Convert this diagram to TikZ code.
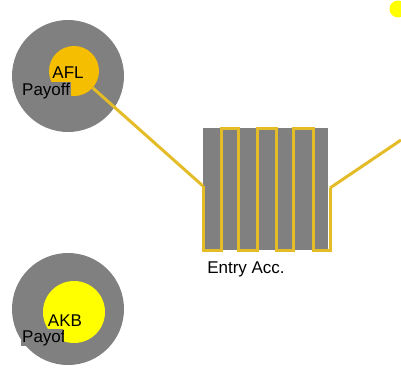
\documentclass[tikz,border=0pt]{standalone}
\usepackage{fontspec}
\setmainfont{Liberation Sans}
\usetikzlibrary{positioning}
\definecolor{ringgray}{RGB}{128,128,128}
\definecolor{aflorange}{RGB}{246,190,0}
\definecolor{akbyellow}{RGB}{255,255,0}
\definecolor{linkgold}{RGB}{228,188,40}

\begin{document}
\begin{tikzpicture}[x=1pt,y=-1pt,
    ring/.style={circle, fill=ringgray, minimum size=112pt, inner sep=0pt},
    core/.style={circle, minimum size=#1, inner sep=0pt},
    txt/.style={font=\fontsize{17}{19}\selectfont, inner sep=0pt},
    link/.style={draw=linkgold, line width=3pt}
]
\useasboundingbox (0,0) rectangle (401,370);

% outer grey rings
\node[ring] (aflring) at (68,76) {};
\node[ring] (akbring) at (68,309) {};

% the account box with its meander
\fill[ringgray] (203,128) rectangle (328,250);
\coordinate (in) at (203,186);
\coordinate (out) at (330,188);
\coordinate (far) at (401,140);
\draw[link, line join=miter] (in) -- (203,250) -- (221,250) -- (221,128) -- (238,128)
    -- (238,250) -- (257,250) -- (257,128) -- (276,128) -- (276,250) -- (293,250)
    -- (293,128) -- (313,128) -- (313,250) -- (330,250) -- (out);

% inner discs
\node[core=50pt, fill=aflorange] (afl) at (74,71) {};
\node[core=62pt, fill=akbyellow] (akb) at (74,312) {};

% connectors
\draw[link] (afl.-42) -- (in);
\draw[link] (out) -- (far);

% texts
\node[txt] (afltext) at (68,73) {AFL};
\node[txt] (akbtext) at (65,321) {AKB};
\node[txt, anchor=north] (entry) at (246,262) {Entry Acc.};
\begin{scope}
  \clip (20,80) rectangle (74,98);
  \node[txt, fill=ringgray, anchor=base west, inner sep=1pt] (aflpay) at (21,95) {Payoff};
\end{scope}
\begin{scope}
  \clip (20,327) rectangle (63,345);
  \node[txt, fill=ringgray, anchor=base west, inner sep=1pt] (akbpay) at (21,342) {Payoff};
\end{scope}

% small yellow dot in the corner
\node[core=17pt, fill=akbyellow] (dot) at (398,9) {};
\end{tikzpicture}
\end{document}
